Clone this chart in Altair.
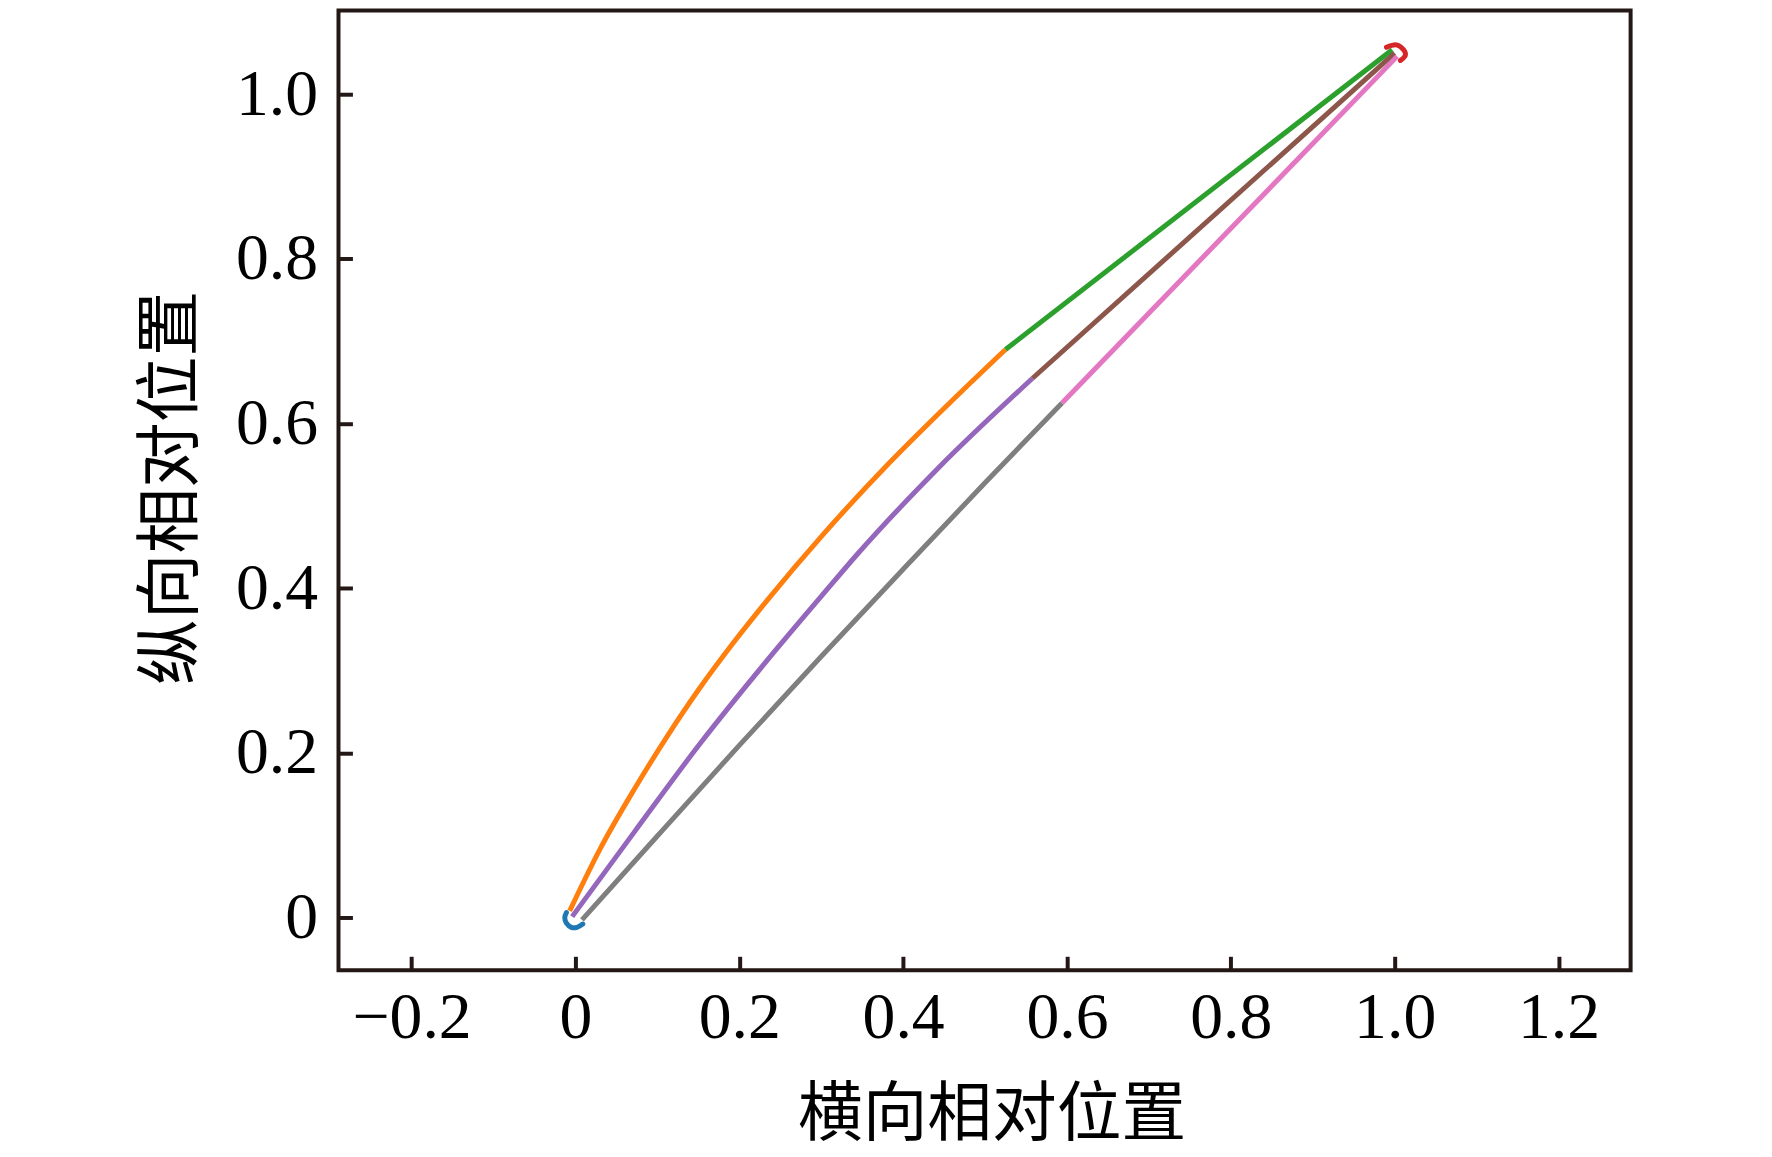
import altair as alt
import pandas as pd

# ---- data ----
orange_x = [-0.007, 0.030, 0.072, 0.112, 0.152, 0.193, 0.233, 0.303, 0.383, 0.464, 0.525]
orange_y = [0.008, 0.083, 0.156, 0.220, 0.279, 0.334, 0.384, 0.466, 0.552, 0.632, 0.690]
green_x = [0.525, 0.997]
green_y = [0.690, 1.054]
purple_x = [-0.004, 0.072, 0.152, 0.233, 0.300, 0.343, 0.443, 0.558]
purple_y = [0.001, 0.104, 0.211, 0.311, 0.390, 0.440, 0.546, 0.655]
brown_x = [0.558, 1.000]
brown_y = [0.655, 1.050]
gray_x = [0.008, 0.100, 0.200, 0.300, 0.400, 0.500, 0.594]
gray_y = [-0.003, 0.099, 0.209, 0.317, 0.423, 0.528, 0.625]
pink_x = [0.594, 1.003]
pink_y = [0.625, 1.046]
blue_x = [-0.011, -0.013, -0.011, -0.005, 0.002, 0.009]
blue_y = [0.006, 0.000, -0.007, -0.012, -0.012, -0.008]
red_x = [0.990, 1.002, 1.011, 1.013, 1.007]
red_y = [1.057, 1.060, 1.054, 1.047, 1.041]

x_ticks = [-0.2, 0, 0.2, 0.4, 0.6, 0.8, 1.0, 1.2]
y_ticks = [0, 0.2, 0.4, 0.6, 0.8, 1.0]
x_title = "横向相对位置"
y_title = "纵向相对位置"

series = ["orange", "green", "purple", "brown", "gray", "pink", "blue", "red"]
colors = ["#ff7f0e", "#2ca02c", "#9467bd", "#8c564b", "#7f7f7f", "#e377c2", "#1f77b4", "#d62728"]


def frame(name, xs, ys):
    return pd.DataFrame({"s": name, "x": xs, "y": ys, "o": list(range(len(xs)))})


curves = pd.concat([
    frame("orange", orange_x, orange_y),
    frame("green", green_x, green_y),
    frame("purple", purple_x, purple_y),
    frame("brown", brown_x, brown_y),
    frame("gray", gray_x, gray_y),
    frame("pink", pink_x, pink_y),
])
arcs = pd.concat([
    frame("blue", blue_x, blue_y),
    frame("red", red_x, red_y),
])

W, H = 1298, 964
INK = "#231815"
LABEL_FONT = "Liberation Serif"
TITLE_FONT = "Noto Sans CJK SC"

xscale = alt.Scale(domain=[-0.2892, 1.288], nice=False, zero=False)
yscale = alt.Scale(domain=[-0.0641, 1.1016], nice=False, zero=False)
cscale = alt.Scale(domain=series, range=colors)

xaxis = alt.Axis(
    values=x_ticks, grid=False, domain=False, offset=-14, tickSize=14, tickWidth=4,
    tickColor=INK, labelFont=LABEL_FONT, labelFontSize=66, labelColor="black",
    labelPadding=16, labelExpr="datum.value == 0 ? '0' : format(datum.value, '.1f')",
    labelFlush=False, labelOverlap=False,
    title=x_title, titleFont=TITLE_FONT, titleFontSize=65, titleFontWeight="normal",
    titleColor="black", titleBaseline="alphabetic", titleY=179, titleX=W / 2 + 7,
)
yaxis = alt.Axis(
    values=y_ticks, grid=False, domain=False, offset=-14, tickSize=14, tickWidth=4,
    tickColor=INK, labelFont=LABEL_FONT, labelFontSize=66, labelColor="black",
    labelPadding=21, labelExpr="datum.value == 0 ? '0' : format(datum.value, '.1f')",
    labelFlush=False, labelOverlap=False,
    title=y_title, titleFont=TITLE_FONT, titleFontSize=66, titleFontWeight="normal",
    titleColor="black", titleBaseline="alphabetic", titleAngle=270,
    titleX=-162, titleY=H / 2 - 3,
)

lines = alt.Chart(curves).mark_line(strokeWidth=5, interpolate="monotone", strokeCap="butt").encode(
    x=alt.X("x:Q", scale=xscale, axis=xaxis),
    y=alt.Y("y:Q", scale=yscale, axis=yaxis),
    color=alt.Color("s:N", scale=cscale, legend=None),
    detail="s:N",
    order="o:Q",
)
arc_lines = alt.Chart(arcs).mark_line(strokeWidth=5, interpolate="cardinal", strokeCap="round").encode(
    x=alt.X("x:Q", scale=xscale),
    y=alt.Y("y:Q", scale=yscale),
    color=alt.Color("s:N", scale=cscale, legend=None),
    detail="s:N",
    order="o:Q",
)

chart = alt.layer(lines, arc_lines).properties(
    width=W, height=H,
    autosize=alt.AutoSizeParams(type="none"),
    padding={"left": 332, "top": 0, "right": 134, "bottom": 185},
    background="white",
).configure_view(stroke=INK, strokeWidth=4)

chart.save("out.html", embed_options={"renderer": "svg", "actions": False})
